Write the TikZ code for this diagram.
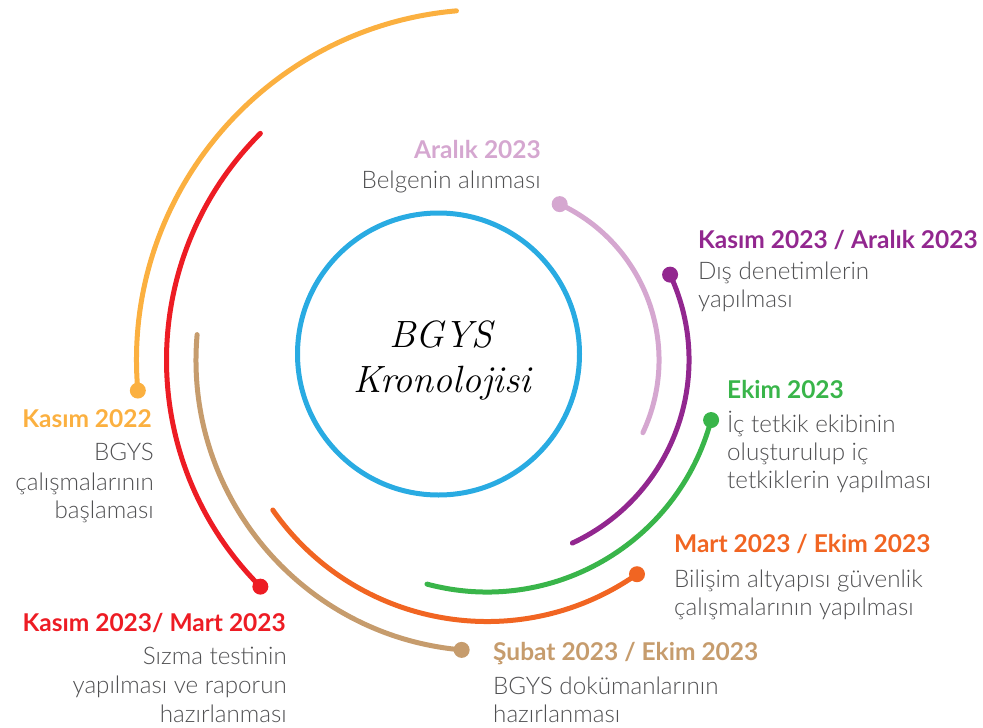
\documentclass[tikz,border=0pt]{standalone}
\usepackage{fontspec}
\newfontfamily\lato{Lato}
\IfFontExistsTF{Lato Light}{\newfontfamily\latolight{Lato Light}}{\newfontfamily\latolight{Lato}}
\definecolor{pinkc}{RGB}{213,167,208}
\definecolor{purplec}{RGB}{146,39,143}
\definecolor{greenc}{RGB}{57,181,74}
\definecolor{orangec}{RGB}{241,101,34}
\definecolor{tanc}{RGB}{198,156,109}
\definecolor{redc}{RGB}{237,28,36}
\definecolor{yellowc}{RGB}{251,176,64}
\definecolor{bluec}{RGB}{41,171,226}
\definecolor{textc}{RGB}{80,80,82}
\begin{document}
\begin{tikzpicture}[x=1pt,y=-1pt,
  arcline/.style={line width=5pt, line cap=round},
  dotn/.style={circle, inner sep=0pt, minimum size=16pt},
  ttl/.style={font=\lato\bfseries\fontsize{24.5}{28}\selectfont, inner sep=0pt},
  bdy/.style={font=\latolight\fontsize{24.2}{28}\selectfont, text=textc, inner sep=0pt},
  heading/.style={font=\itshape\fontsize{38}{45}\selectfont, inner sep=0pt}]
\useasboundingbox (0,0) rectangle (983,728);
\coordinate (C) at (487,360);
% central circle
\node[circle, draw=bluec, line width=5pt, minimum size=282pt, inner sep=0pt] (core) at (438.5,354) {};
\node[heading, anchor=base] (h1) at (441,347) {BGYS};
\node[heading, anchor=base] (h2) at (442,392) {Kronolojisi};
% dots
\node[dotn, fill=pinkc]   (d0) at ([shift={(-65:172)}]C) {};
\node[dotn, fill=purplec] (d1) at ([shift={(-25:202)}]C) {};
\node[dotn, fill=greenc]  (d2) at ([shift={(15:232)}]C) {};
\node[dotn, fill=orangec] (d3) at ([shift={(55:261.5)}]C) {};
\node[dotn, fill=tanc]    (d4) at ([shift={(95:291)}]C) {};
\node[dotn, fill=redc]    (d5) at ([shift={(135:320.5)}]C) {};
\node[dotn, fill=yellowc] (d6) at ([shift={(175:350.5)}]C) {};
% arcs
\draw[arcline, pinkc]   (d0.center) arc[start angle=-65, end angle=25, radius=172];
\draw[arcline, purplec] (d1.center) arc[start angle=-25, end angle=65, radius=202];
\draw[arcline, greenc]  (d2.center) arc[start angle=15, end angle=105, radius=232];
\draw[arcline, orangec] (d3.center) arc[start angle=55, end angle=145, radius=261.5];
\draw[arcline, tanc]    (d4.center) arc[start angle=95, end angle=185, radius=291];
\draw[arcline, redc]    (d5.center) arc[start angle=135, end angle=225, radius=320.5];
\draw[arcline, yellowc] (d6.center) arc[start angle=175, end angle=265, radius=350.5];
% pink label
\node[ttl, text=pinkc, anchor=base east] (t0) at (541,158) {Aralık 2023};
\node[bdy, anchor=base east] (b0a) at (541,188) {Belgenin alınması};
% purple label
\node[ttl, text=purplec, anchor=base west] (t1) at (698,248) {Kasım 2023 / Aralık 2023};
\node[bdy, anchor=base west] (b1a) at (698,279) {Dış denetimlerin};
\node[bdy, anchor=base west] (b1b) at (698,307) {yapılması};
% green label
\node[ttl, text=greenc, anchor=base west] (t2) at (727,398) {Ekim 2023};
\node[bdy, anchor=base west] (b2a) at (727,432) {İç tetkik ekibinin};
\node[bdy, anchor=base west] (b2b) at (727,460) {oluşturulup iç};
\node[bdy, anchor=base west] (b2c) at (727,488) {tetkiklerin yapılması};
% orange label
\node[ttl, text=orangec, anchor=base west] (t3) at (674,552) {Mart 2023 / Ekim 2023};
\node[bdy, anchor=base west] (b3a) at (674,587) {Bilişim altyapısı güvenlik};
\node[bdy, anchor=base west] (b3b) at (674,615) {çalışmalarının yapılması};
% tan label
\node[ttl, text=tanc, anchor=base west] (t4) at (493,660) {Şubat 2023 / Ekim 2023};
\node[bdy, anchor=base west] (b4a) at (493,694) {BGYS dokümanlarının};
\node[bdy, anchor=base west] (b4b) at (493,722) {hazırlanması};
% red label
\node[ttl, text=redc, anchor=base east] (t5) at (286,631) {Kasım 2023/ Mart 2023};
\node[bdy, anchor=base east] (b5a) at (287,664) {Sızma testinin};
\node[bdy, anchor=base east] (b5b) at (287,693) {yapılması ve raporun};
\node[bdy, anchor=base east] (b5c) at (287,722) {hazırlanması};
% yellow label
\node[ttl, text=yellowc, anchor=base east] (t6) at (152,427) {Kasım 2022};
\node[bdy, anchor=base east] (b6a) at (154,460) {BGYS};
\node[bdy, anchor=base east] (b6b) at (154,490) {çalışmalarının};
\node[bdy, anchor=base east] (b6c) at (154,518) {başlaması};
\end{tikzpicture}
\end{document}
